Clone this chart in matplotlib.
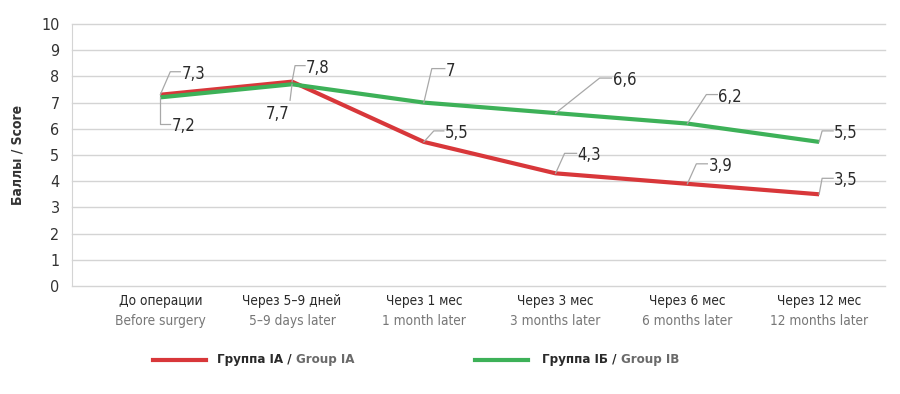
import matplotlib
matplotlib.use("Agg")
import matplotlib.pyplot as plt
from matplotlib.lines import Line2D

plt.rcParams['font.family'] = ['DejaVu Sans']
plt.rcParams['font.stretch'] = 'condensed'

# Data
categories_ru = ['До операции', 'Через 5–9 дней', 'Через 1 мес', 'Через 3 мес', 'Через 6 мес', 'Через 12 мес']
categories_en = ['Before surgery', '5–9 days later', '1 month later', '3 months later', '6 months later', '12 months later']
group_ia = [7.3, 7.8, 5.5, 4.3, 3.9, 3.5]
group_ib = [7.2, 7.7, 7.0, 6.6, 6.2, 5.5]

red = '#d8373a'
green = '#3db158'
grid_col = '#d4d4d4'
leader_col = '#a8a8a8'

# callout leader shapes in pixels: (elbow dx, elbow dy, end dx), dy up positive
ia_callouts = [(10, 23, 10), (3, 16, 10), (10, 11, 10), (9, 20, 12), (9, 20, 11), (3, 16, 11)]
ib_callouts = [(0, -27, 10), (-2, -16, 0), (8, 34, 13), (44, 35, 12), (19, 29, 11), (3, 11, 11)]

fig = plt.figure(figsize=(9, 3.94), dpi=100)
ax = fig.add_axes([72 / 900, 1 - 286 / 394, 813 / 900, 262 / 394])

x = list(range(len(categories_ru)))
ax.plot(x, group_ia, color=red, lw=3.0, solid_capstyle='butt', zorder=3)
ax.plot(x, group_ib, color=green, lw=3.0, solid_capstyle='butt', zorder=4)

ax.set_xlim(-0.67, 5.5)
ax.set_ylim(0, 10)
ax.set_yticks(range(0, 11))
ax.set_xticks([])
ax.yaxis.grid(True, color=grid_col, lw=1.0)
for gl in ax.get_ygridlines():
    gl.set_clip_on(False)
ax.set_axisbelow(True)
for s in ['top', 'right', 'bottom']:
    ax.spines[s].set_visible(False)
ax.spines['left'].set_color(grid_col)
ax.tick_params(axis='y', length=0, pad=9, labelsize=11.5, labelcolor='#333333')
ax.set_ylabel('Баллы / Score', fontsize=10, fontweight='bold', color='#333333')
ax.yaxis.set_label_coords(-0.058, 0.5)

# x category labels, two lines in two colours
trans = ax.get_xaxis_transform()
for i in x:
    ax.text(i, -0.057, categories_ru[i], transform=trans, ha='center', va='center',
            fontsize=9.8, color='#2a2a2a')
    ax.text(i, -0.133, categories_en[i], transform=trans, ha='center', va='center',
            fontsize=9.8, color='#777777')

# data labels with elbow leaders
fig.canvas.draw()


def fmt(v):
    return ('%g' % v).replace('.', ',')


def callout(xi, yi, shape):
    px, py = ax.transData.transform((xi, yi))
    ex, ey, hx = shape
    pts_x = [px, px + ex, px + ex + hx]
    pts_y = [py, py + ey, py + ey]
    fig.add_artist(Line2D(pts_x, pts_y, transform=None, color=leader_col, lw=0.9, zorder=5))
    if hx == 0:
        fig.text(px + ex - 1, py + ey - 14, fmt(yi), transform=None, ha='right', va='center',
                 fontsize=12, color='#2a2a2a')
    else:
        fig.text(pts_x[-1] + 1, py + ey - 2, fmt(yi), transform=None, ha='left', va='center',
                 fontsize=12, color='#2a2a2a')


for i in x:
    callout(i, group_ia[i], ia_callouts[i])
    callout(i, group_ib[i], ib_callouts[i])

# legend
for lx, tx, col, ru, en in [(153, 217, red, 'Группа IA / ', 'Group IA'),
                            (475, 542, green, 'Группа IБ / ', 'Group IB')]:
    fig.add_artist(Line2D([lx, lx + 53], [394 - 360, 394 - 360], transform=None, color=col, lw=3.0))
    t = fig.text(tx, 394 - 360, ru, transform=None, ha='left', va='center',
                 fontsize=9.5, fontweight='bold', color='#2a2a2a')
    fig.canvas.draw()
    bb = t.get_window_extent()
    fig.text(bb.x1, 394 - 360, en, transform=None, ha='left', va='center',
             fontsize=9.5, fontweight='bold', color='#6a6a6a')

fig.savefig('out.png', dpi=100)
